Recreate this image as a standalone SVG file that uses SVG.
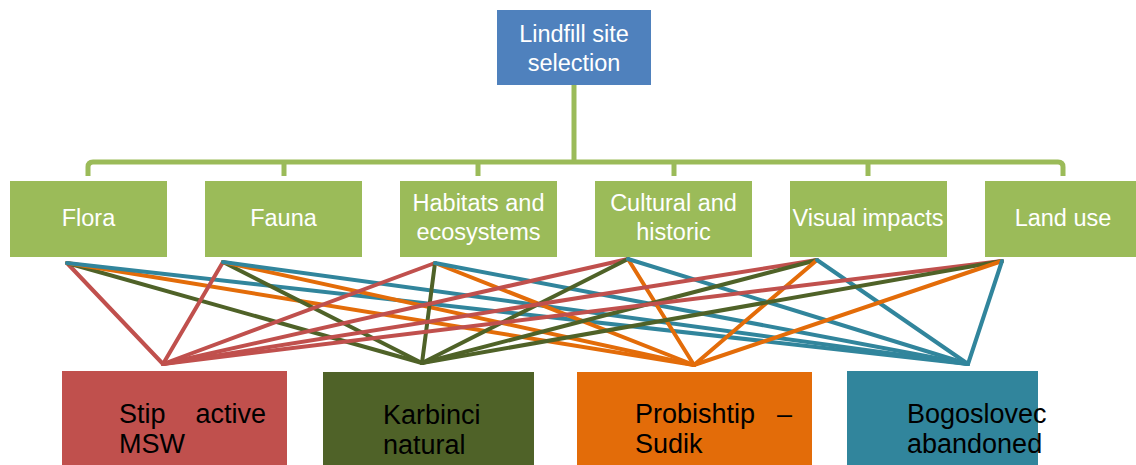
<svg xmlns="http://www.w3.org/2000/svg" width="1136" height="465" viewBox="0 0 1136 465">
  <style>
    .top { fill: #4f81bd; }
    .crit { fill: #9bbb59; }
    .tw { font-family: "Liberation Sans", Arial, sans-serif; font-size: 23.5px; fill: #ffffff; text-anchor: middle; }
    .bw { font-family: "Liberation Sans", Arial, sans-serif; font-size: 27px; fill: #000000; }
    .tree { fill: none; stroke: #9bbb59; stroke-width: 5; }
    .c { fill: none; stroke-width: 4; stroke-linecap: round; }
    .r { stroke: #c0504d; }
    .g { stroke: #4f6228; }
    .o { stroke: #e36c09; }
    .b { stroke: #31859c; }
  </style>
  <rect width="1136" height="465" fill="#ffffff"/>

  <g id="tree-connectors">
    <path class="tree" d="M574,85 V162"/>
    <path class="tree" d="M88,176 V167 Q88,162 93,162 H1058 Q1063,162 1063,167 V176"/>
    <path class="tree" d="M284,162 V176 M478,162 V176 M674,162 V176 M868,162 V176"/>
  </g>

  <g id="node-root">
    <rect class="top" x="497" y="10" width="154" height="75"/>
    <text class="tw" x="574" y="42">Lindfill site</text>
    <text class="tw" x="574" y="71">selection</text>
  </g>

  <g id="node-flora">
    <rect class="crit" x="10" y="181" width="157" height="76"/>
    <text class="tw" x="88.5" y="226">Flora</text>
  </g>
  <g id="node-fauna">
    <rect class="crit" x="205" y="181" width="157" height="76"/>
    <text class="tw" x="283.5" y="226">Fauna</text>
  </g>
  <g id="node-habitats">
    <rect class="crit" x="400" y="181" width="157" height="76"/>
    <text class="tw" x="478.5" y="211">Habitats and</text>
    <text class="tw" x="478.5" y="240">ecosystems</text>
  </g>
  <g id="node-cultural">
    <rect class="crit" x="595" y="181" width="157" height="76"/>
    <text class="tw" x="673.5" y="211">Cultural and</text>
    <text class="tw" x="673.5" y="240">historic</text>
  </g>
  <g id="node-visual">
    <rect class="crit" x="790" y="181" width="157" height="76"/>
    <text class="tw" x="868" y="226">Visual impacts</text>
  </g>
  <g id="node-landuse">
    <rect class="crit" x="985" y="181" width="157" height="76"/>
    <text class="tw" x="1063" y="226">Land use</text>
  </g>

  <g id="connectors">
    <!-- Flora -->
    <line class="c r" x1="67" y1="263" x2="163" y2="364"/>
    <line class="c g" x1="67" y1="263" x2="422" y2="363"/>
    <line class="c o" x1="67" y1="263" x2="694" y2="365"/>
    <line class="c b" x1="67" y1="263" x2="968" y2="364"/>
    <!-- Fauna -->
    <line class="c r" x1="223" y1="262" x2="163" y2="364"/>
    <line class="c g" x1="223" y1="262" x2="422" y2="363"/>
    <line class="c o" x1="223" y1="262" x2="694" y2="365"/>
    <line class="c b" x1="223" y1="262" x2="968" y2="364"/>
    <!-- Habitats -->
    <line class="c r" x1="435" y1="263" x2="163" y2="364"/>
    <line class="c g" x1="435" y1="263" x2="422" y2="363"/>
    <line class="c o" x1="435" y1="263" x2="694" y2="365"/>
    <line class="c b" x1="435" y1="263" x2="968" y2="364"/>
    <!-- Cultural -->
    <line class="c r" x1="628" y1="259" x2="163" y2="364"/>
    <line class="c g" x1="628" y1="259" x2="422" y2="363"/>
    <line class="c o" x1="628" y1="259" x2="694" y2="365"/>
    <line class="c b" x1="628" y1="259" x2="968" y2="364"/>
    <!-- Visual -->
    <line class="c r" x1="817" y1="260" x2="163" y2="364"/>
    <line class="c g" x1="817" y1="260" x2="422" y2="363"/>
    <line class="c o" x1="817" y1="260" x2="694" y2="365"/>
    <line class="c b" x1="817" y1="260" x2="968" y2="364"/>
    <!-- Land use -->
    <line class="c r" x1="1002" y1="261" x2="163" y2="364"/>
    <line class="c g" x1="1002" y1="261" x2="422" y2="363"/>
    <line class="c o" x1="1002" y1="261" x2="694" y2="365"/>
    <line class="c b" x1="1002" y1="261" x2="968" y2="364"/>
  </g>

  <g id="node-stip">
    <rect x="62" y="371" width="225" height="94" fill="#c0504d"/>
    <text class="bw" x="119" y="423">Stip</text>
    <text class="bw" x="266" y="423" text-anchor="end">active</text>
    <text class="bw" x="119" y="453">MSW</text>
  </g>
  <g id="node-karbinci">
    <rect x="323" y="372" width="211" height="93" fill="#4f6228"/>
    <text class="bw" x="383" y="424">Karbinci</text>
    <text class="bw" x="383" y="454">natural</text>
  </g>
  <g id="node-probishtip">
    <rect x="577" y="372" width="235" height="93" fill="#e36c09"/>
    <text class="bw" x="635" y="423">Probishtip</text>
    <text class="bw" x="792" y="423" text-anchor="end">–</text>
    <text class="bw" x="635" y="453">Sudik</text>
  </g>
  <g id="node-bogoslovec">
    <rect x="847" y="371" width="191" height="94" fill="#31859c"/>
    <text class="bw" x="907" y="423">Bogoslovec</text>
    <text class="bw" x="907" y="453">abandoned</text>
  </g>
</svg>
